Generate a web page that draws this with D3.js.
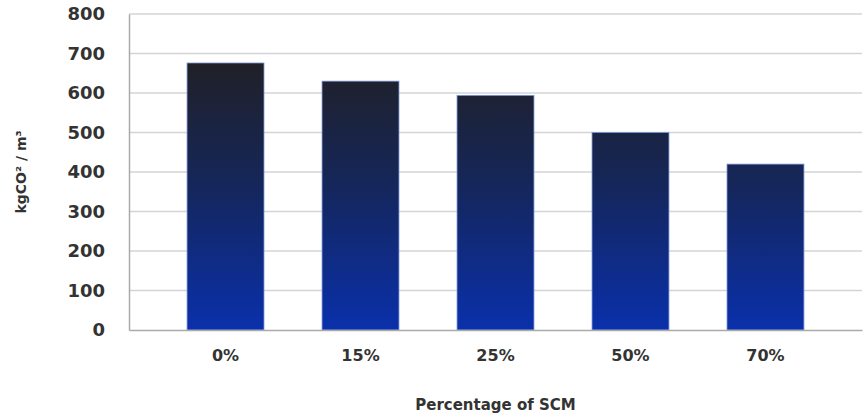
<!DOCTYPE html>
<html lang="en">
<head>
<meta charset="UTF-8">
<style>
  body { margin: 0; background: #fff; }
  .tick text { font-family: "DejaVu Sans", sans-serif; font-weight: bold; fill: #333; }
</style>
</head>
<body>
<svg id="chart" width="863" height="416"></svg>
<script src="https://d3js.org/d3.v7.min.js"></script>
<script>
  // data
  var categories = ["0%", "15%", "25%", "50%", "70%"];
  var values = [676, 630, 594, 500, 420];
  var yTicks = [0, 100, 200, 300, 400, 500, 600, 700, 800];

  var svg = d3.select("#chart"),
    margin = {top: 14, right: 1, bottom: 86, left: 129},
    width = +svg.attr("width") - margin.left - margin.right,
    height = +svg.attr("height") - margin.top - margin.bottom;

  var x = d3.scaleBand().domain(categories).range([0, width]).padding(0.43);
  var y = d3.scaleLinear().domain([0, 800]).range([height, 0]);

  // one gradient across the whole plot, so lower bars start lighter
  var grad = svg.append("defs").append("linearGradient")
    .attr("id", "barGrad")
    .attr("gradientUnits", "userSpaceOnUse")
    .attr("x1", 0).attr("x2", 0)
    .attr("y1", y(680)).attr("y2", y(0));
  grad.append("stop").attr("offset", "0%").attr("stop-color", "#202026");
  grad.append("stop").attr("offset", "45%").attr("stop-color", "#152659");
  grad.append("stop").attr("offset", "100%").attr("stop-color", "#0a30ab");

  var g = svg.append("g").attr("transform", "translate(" + margin.left + "," + margin.top + ")");

  // gridlines
  g.append("g")
    .selectAll("line")
    .data(yTicks.filter(function(d) { return d > 0; }))
    .enter().append("line")
      .attr("x1", 0).attr("x2", width)
      .attr("y1", function(d) { return y(d); })
      .attr("y2", function(d) { return y(d); })
      .attr("stroke", "#d4d4d4")
      .attr("stroke-width", 1.5);

  // bars
  g.append("g")
    .selectAll("rect")
    .data(values)
    .enter().append("rect")
      .attr("x", function(d, i) { return x(categories[i]); })
      .attr("y", function(d) { return y(d); })
      .attr("width", x.bandwidth())
      .attr("height", function(d) { return height - y(d); })
      .attr("fill", "url(#barGrad)")
      .attr("stroke", "#7f96d8")
      .attr("stroke-width", 0.8);

  // y axis
  var yAxis = g.append("g")
    .call(d3.axisLeft(y).tickValues(yTicks).tickSize(0).tickPadding(24));
  yAxis.select(".domain").attr("stroke", "#aaa").attr("stroke-width", 1.5);
  yAxis.selectAll("text").style("font-size", "18px");

  // x axis
  var xAxis = g.append("g")
    .attr("transform", "translate(0," + height + ")")
    .call(d3.axisBottom(x).tickSize(0).tickPadding(20));
  xAxis.select(".domain").attr("stroke", "#aaa").attr("stroke-width", 1.5);
  xAxis.selectAll("text").style("font-size", "16px");

  // axis titles
  svg.append("text")
    .attr("transform", "translate(26," + 172 + ") rotate(-90)")
    .attr("text-anchor", "middle")
    .style("font-family", "'DejaVu Sans', sans-serif")
    .style("font-weight", "bold")
    .style("font-size", "14px")
    .attr("fill", "#333")
    .text("kgCO² / m³");

  svg.append("text")
    .attr("x", margin.left + width / 2)
    .attr("y", 410)
    .attr("text-anchor", "middle")
    .style("font-family", "'DejaVu Sans', sans-serif")
    .style("font-weight", "bold")
    .style("font-size", "15px")
    .attr("fill", "#333")
    .text("Percentage of SCM");
</script>
</body>
</html>
